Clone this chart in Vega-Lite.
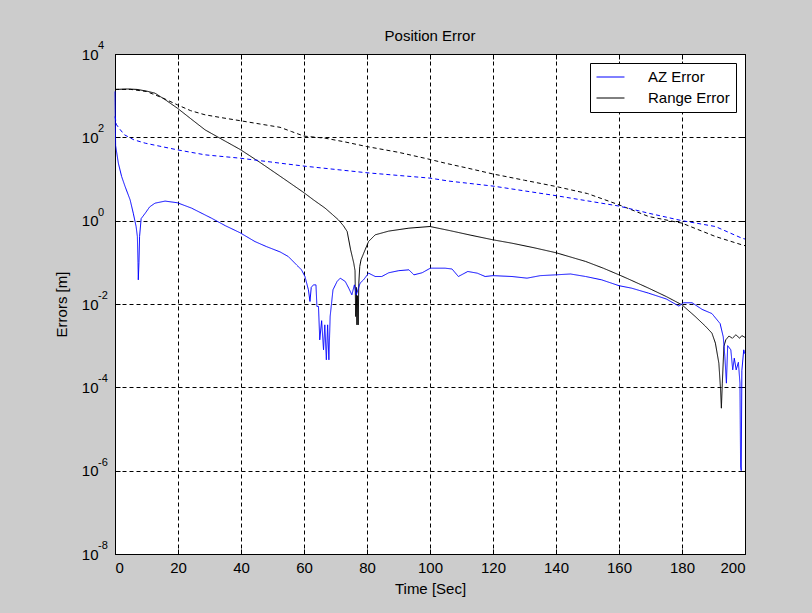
{
  "$schema": "https://vega.github.io/schema/vega-lite/v6.json",
  "width": 630,
  "height": 500,
  "autosize": {"type": "none"},
  "padding": {"left": 115, "top": 54, "right": 67, "bottom": 59},
  "background": "#cccccc",
  "config": {
    "font": "Liberation Sans",
    "view": {"fill": "white", "stroke": "black", "strokeWidth": 1},
    "axis": {
      "domain": false,
      "ticks": true,
      "tickSize": -5,
      "tickColor": "black",
      "tickWidth": 1,
      "labelFont": "Liberation Sans",
      "labelFontSize": 15,
      "labelColor": "black",
      "titleFont": "Liberation Sans",
      "titleFontSize": 15,
      "titleFontWeight": "normal",
      "titleColor": "black",
      "gridColor": "black",
      "gridOpacity": 1,
      "gridWidth": 1,
      "gridDash": [4, 3]
    }
  },
  "title": {
    "text": "Position Error",
    "font": "Liberation Sans",
    "fontSize": 15,
    "fontWeight": "normal",
    "color": "black",
    "frame": "group",
    "anchor": "middle",
    "offset": -4
  },
  "datasets": {
    "lines": [
      {"t": 0, "v": 1413, "s": "Range Error", "k": "solid"},
      {"t": 4, "v": 1445, "s": "Range Error", "k": "solid"},
      {"t": 7, "v": 1413, "s": "Range Error", "k": "solid"},
      {"t": 10, "v": 1288, "s": "Range Error", "k": "solid"},
      {"t": 12.7, "v": 1148, "s": "Range Error", "k": "solid"},
      {"t": 16, "v": 794, "s": "Range Error", "k": "solid"},
      {"t": 19.8, "v": 501, "s": "Range Error", "k": "solid"},
      {"t": 24, "v": 282, "s": "Range Error", "k": "solid"},
      {"t": 28.6, "v": 151, "s": "Range Error", "k": "solid"},
      {"t": 34, "v": 89.1, "s": "Range Error", "k": "solid"},
      {"t": 39.7, "v": 51.3, "s": "Range Error", "k": "solid"},
      {"t": 46, "v": 25.1, "s": "Range Error", "k": "solid"},
      {"t": 52.4, "v": 11.7, "s": "Range Error", "k": "solid"},
      {"t": 56, "v": 7.59, "s": "Range Error", "k": "solid"},
      {"t": 60, "v": 4.68, "s": "Range Error", "k": "solid"},
      {"t": 63, "v": 3.16, "s": "Range Error", "k": "solid"},
      {"t": 66.7, "v": 2.0, "s": "Range Error", "k": "solid"},
      {"t": 69, "v": 1.41, "s": "Range Error", "k": "solid"},
      {"t": 70.9, "v": 1.05, "s": "Range Error", "k": "solid"},
      {"t": 72.5, "v": 0.759, "s": "Range Error", "k": "solid"},
      {"t": 73.7, "v": 0.55, "s": "Range Error", "k": "solid"},
      {"t": 74.8, "v": 0.2, "s": "Range Error", "k": "solid"},
      {"t": 75.8, "v": 0.0955, "s": "Range Error", "k": "solid"},
      {"t": 76.2, "v": 0.0631, "s": "Range Error", "k": "solid"},
      {"t": 76.4, "v": 0.00501, "s": "Range Error", "k": "solid"},
      {"t": 76.6, "v": 0.0251, "s": "Range Error", "k": "solid"},
      {"t": 76.8, "v": 0.00316, "s": "Range Error", "k": "solid"},
      {"t": 77.0, "v": 0.0158, "s": "Range Error", "k": "solid"},
      {"t": 77.2, "v": 0.00316, "s": "Range Error", "k": "solid"},
      {"t": 77.4, "v": 0.0316, "s": "Range Error", "k": "solid"},
      {"t": 77.7, "v": 0.0794, "s": "Range Error", "k": "solid"},
      {"t": 78.1, "v": 0.115, "s": "Range Error", "k": "solid"},
      {"t": 79.4, "v": 0.2, "s": "Range Error", "k": "solid"},
      {"t": 80.5, "v": 0.316, "s": "Range Error", "k": "solid"},
      {"t": 82.6, "v": 0.457, "s": "Range Error", "k": "solid"},
      {"t": 86.9, "v": 0.562, "s": "Range Error", "k": "solid"},
      {"t": 93.3, "v": 0.661, "s": "Range Error", "k": "solid"},
      {"t": 100, "v": 0.724, "s": "Range Error", "k": "solid"},
      {"t": 106.4, "v": 0.575, "s": "Range Error", "k": "solid"},
      {"t": 113, "v": 0.447, "s": "Range Error", "k": "solid"},
      {"t": 120, "v": 0.347, "s": "Range Error", "k": "solid"},
      {"t": 126, "v": 0.288, "s": "Range Error", "k": "solid"},
      {"t": 133, "v": 0.224, "s": "Range Error", "k": "solid"},
      {"t": 140, "v": 0.17, "s": "Range Error", "k": "solid"},
      {"t": 149.4, "v": 0.105, "s": "Range Error", "k": "solid"},
      {"t": 155, "v": 0.0724, "s": "Range Error", "k": "solid"},
      {"t": 160, "v": 0.0501, "s": "Range Error", "k": "solid"},
      {"t": 163, "v": 0.0398, "s": "Range Error", "k": "solid"},
      {"t": 169.4, "v": 0.024, "s": "Range Error", "k": "solid"},
      {"t": 175, "v": 0.0151, "s": "Range Error", "k": "solid"},
      {"t": 180, "v": 0.00955, "s": "Range Error", "k": "solid"},
      {"t": 184.2, "v": 0.00501, "s": "Range Error", "k": "solid"},
      {"t": 187.4, "v": 0.00295, "s": "Range Error", "k": "solid"},
      {"t": 189.5, "v": 0.002, "s": "Range Error", "k": "solid"},
      {"t": 190.6, "v": 0.00115, "s": "Range Error", "k": "solid"},
      {"t": 191.7, "v": 0.00038, "s": "Range Error", "k": "solid"},
      {"t": 192.2, "v": 0.0001, "s": "Range Error", "k": "solid"},
      {"t": 192.5, "v": 0.0000316, "s": "Range Error", "k": "solid"},
      {"t": 192.8, "v": 0.000126, "s": "Range Error", "k": "solid"},
      {"t": 193.3, "v": 0.000955, "s": "Range Error", "k": "solid"},
      {"t": 193.9, "v": 0.00138, "s": "Range Error", "k": "solid"},
      {"t": 194.9, "v": 0.0017, "s": "Range Error", "k": "solid"},
      {"t": 196, "v": 0.00151, "s": "Range Error", "k": "solid"},
      {"t": 197.1, "v": 0.00182, "s": "Range Error", "k": "solid"},
      {"t": 198.3, "v": 0.00151, "s": "Range Error", "k": "solid"},
      {"t": 199, "v": 0.00174, "s": "Range Error", "k": "solid"},
      {"t": 200, "v": 0.00158, "s": "Range Error", "k": "solid"},

      {"t": 0, "v": 1413, "s": "Range Error", "k": "dashed"},
      {"t": 5, "v": 1413, "s": "Range Error", "k": "dashed"},
      {"t": 10, "v": 1259, "s": "Range Error", "k": "dashed"},
      {"t": 15, "v": 891, "s": "Range Error", "k": "dashed"},
      {"t": 19.8, "v": 603, "s": "Range Error", "k": "dashed"},
      {"t": 24, "v": 437, "s": "Range Error", "k": "dashed"},
      {"t": 28.6, "v": 347, "s": "Range Error", "k": "dashed"},
      {"t": 34, "v": 295, "s": "Range Error", "k": "dashed"},
      {"t": 39.7, "v": 251, "s": "Range Error", "k": "dashed"},
      {"t": 46, "v": 209, "s": "Range Error", "k": "dashed"},
      {"t": 52.4, "v": 174, "s": "Range Error", "k": "dashed"},
      {"t": 56, "v": 138, "s": "Range Error", "k": "dashed"},
      {"t": 60, "v": 107, "s": "Range Error", "k": "dashed"},
      {"t": 66.7, "v": 95.5, "s": "Range Error", "k": "dashed"},
      {"t": 73, "v": 77.6, "s": "Range Error", "k": "dashed"},
      {"t": 79.8, "v": 60.3, "s": "Range Error", "k": "dashed"},
      {"t": 90, "v": 43.7, "s": "Range Error", "k": "dashed"},
      {"t": 100, "v": 29.5, "s": "Range Error", "k": "dashed"},
      {"t": 104.8, "v": 24.0, "s": "Range Error", "k": "dashed"},
      {"t": 112, "v": 18.2, "s": "Range Error", "k": "dashed"},
      {"t": 120, "v": 13.2, "s": "Range Error", "k": "dashed"},
      {"t": 130, "v": 9.33, "s": "Range Error", "k": "dashed"},
      {"t": 140, "v": 6.61, "s": "Range Error", "k": "dashed"},
      {"t": 150, "v": 4.47, "s": "Range Error", "k": "dashed"},
      {"t": 160, "v": 2.4, "s": "Range Error", "k": "dashed"},
      {"t": 169.4, "v": 1.26, "s": "Range Error", "k": "dashed"},
      {"t": 180, "v": 0.871, "s": "Range Error", "k": "dashed"},
      {"t": 190.6, "v": 0.417, "s": "Range Error", "k": "dashed"},
      {"t": 199, "v": 0.263, "s": "Range Error", "k": "dashed"},
      {"t": 200, "v": 0.251, "s": "Range Error", "k": "dashed"},

      {"t": 0, "v": 316, "s": "AZ Error", "k": "dashed"},
      {"t": 0.5, "v": 200, "s": "AZ Error", "k": "dashed"},
      {"t": 1.5, "v": 158, "s": "AZ Error", "k": "dashed"},
      {"t": 3, "v": 115, "s": "AZ Error", "k": "dashed"},
      {"t": 6, "v": 87.1, "s": "AZ Error", "k": "dashed"},
      {"t": 9.6, "v": 72.4, "s": "AZ Error", "k": "dashed"},
      {"t": 14, "v": 61.7, "s": "AZ Error", "k": "dashed"},
      {"t": 19.8, "v": 50.1, "s": "AZ Error", "k": "dashed"},
      {"t": 28.6, "v": 38.0, "s": "AZ Error", "k": "dashed"},
      {"t": 39.7, "v": 31.6, "s": "AZ Error", "k": "dashed"},
      {"t": 52.4, "v": 24.0, "s": "AZ Error", "k": "dashed"},
      {"t": 60, "v": 20.4, "s": "AZ Error", "k": "dashed"},
      {"t": 80, "v": 14.1, "s": "AZ Error", "k": "dashed"},
      {"t": 100, "v": 10.5, "s": "AZ Error", "k": "dashed"},
      {"t": 106, "v": 8.91, "s": "AZ Error", "k": "dashed"},
      {"t": 120, "v": 6.76, "s": "AZ Error", "k": "dashed"},
      {"t": 140, "v": 3.98, "s": "AZ Error", "k": "dashed"},
      {"t": 160, "v": 2.24, "s": "AZ Error", "k": "dashed"},
      {"t": 169.4, "v": 1.51, "s": "AZ Error", "k": "dashed"},
      {"t": 180, "v": 1.0, "s": "AZ Error", "k": "dashed"},
      {"t": 190.6, "v": 0.724, "s": "AZ Error", "k": "dashed"},
      {"t": 199, "v": 0.38, "s": "AZ Error", "k": "dashed"},
      {"t": 200, "v": 0.363, "s": "AZ Error", "k": "dashed"},

      {"t": 0, "v": 1259, "s": "AZ Error", "k": "solid"},
      {"t": 0.2, "v": 63.1, "s": "AZ Error", "k": "solid"},
      {"t": 1.06, "v": 24.0, "s": "AZ Error", "k": "solid"},
      {"t": 2.1, "v": 11.5, "s": "AZ Error", "k": "solid"},
      {"t": 3.2, "v": 6.61, "s": "AZ Error", "k": "solid"},
      {"t": 4.8, "v": 3.16, "s": "AZ Error", "k": "solid"},
      {"t": 5.8, "v": 1.51, "s": "AZ Error", "k": "solid"},
      {"t": 6.7, "v": 0.724, "s": "AZ Error", "k": "solid"},
      {"t": 7.1, "v": 0.417, "s": "AZ Error", "k": "solid"},
      {"t": 7.3, "v": 0.1, "s": "AZ Error", "k": "solid"},
      {"t": 7.4, "v": 0.038, "s": "AZ Error", "k": "solid"},
      {"t": 7.6, "v": 0.1, "s": "AZ Error", "k": "solid"},
      {"t": 7.8, "v": 0.417, "s": "AZ Error", "k": "solid"},
      {"t": 8.3, "v": 1.12, "s": "AZ Error", "k": "solid"},
      {"t": 9.6, "v": 1.51, "s": "AZ Error", "k": "solid"},
      {"t": 11, "v": 2.14, "s": "AZ Error", "k": "solid"},
      {"t": 12.7, "v": 2.63, "s": "AZ Error", "k": "solid"},
      {"t": 15.9, "v": 2.95, "s": "AZ Error", "k": "solid"},
      {"t": 19.8, "v": 2.69, "s": "AZ Error", "k": "solid"},
      {"t": 24.3, "v": 2.0, "s": "AZ Error", "k": "solid"},
      {"t": 30.6, "v": 1.15, "s": "AZ Error", "k": "solid"},
      {"t": 35, "v": 0.759, "s": "AZ Error", "k": "solid"},
      {"t": 39.7, "v": 0.513, "s": "AZ Error", "k": "solid"},
      {"t": 44.4, "v": 0.316, "s": "AZ Error", "k": "solid"},
      {"t": 48, "v": 0.24, "s": "AZ Error", "k": "solid"},
      {"t": 52.4, "v": 0.178, "s": "AZ Error", "k": "solid"},
      {"t": 55, "v": 0.138, "s": "AZ Error", "k": "solid"},
      {"t": 59.2, "v": 0.0661, "s": "AZ Error", "k": "solid"},
      {"t": 60.3, "v": 0.0457, "s": "AZ Error", "k": "solid"},
      {"t": 61.4, "v": 0.0219, "s": "AZ Error", "k": "solid"},
      {"t": 61.9, "v": 0.0115, "s": "AZ Error", "k": "solid"},
      {"t": 62.3, "v": 0.0251, "s": "AZ Error", "k": "solid"},
      {"t": 63, "v": 0.0288, "s": "AZ Error", "k": "solid"},
      {"t": 63.8, "v": 0.0288, "s": "AZ Error", "k": "solid"},
      {"t": 64.1, "v": 0.00871, "s": "AZ Error", "k": "solid"},
      {"t": 64.6, "v": 0.00871, "s": "AZ Error", "k": "solid"},
      {"t": 65.0, "v": 0.00138, "s": "AZ Error", "k": "solid"},
      {"t": 65.6, "v": 0.00398, "s": "AZ Error", "k": "solid"},
      {"t": 66.2, "v": 0.000794, "s": "AZ Error", "k": "solid"},
      {"t": 66.6, "v": 0.00316, "s": "AZ Error", "k": "solid"},
      {"t": 67.1, "v": 0.000457, "s": "AZ Error", "k": "solid"},
      {"t": 67.5, "v": 0.00316, "s": "AZ Error", "k": "solid"},
      {"t": 67.9, "v": 0.000457, "s": "AZ Error", "k": "solid"},
      {"t": 68.3, "v": 0.00501, "s": "AZ Error", "k": "solid"},
      {"t": 69.2, "v": 0.0219, "s": "AZ Error", "k": "solid"},
      {"t": 70.5, "v": 0.0347, "s": "AZ Error", "k": "solid"},
      {"t": 71.5, "v": 0.0417, "s": "AZ Error", "k": "solid"},
      {"t": 73.1, "v": 0.0347, "s": "AZ Error", "k": "solid"},
      {"t": 74.2, "v": 0.024, "s": "AZ Error", "k": "solid"},
      {"t": 75.2, "v": 0.0166, "s": "AZ Error", "k": "solid"},
      {"t": 76, "v": 0.0288, "s": "AZ Error", "k": "solid"},
      {"t": 76.6, "v": 0.0166, "s": "AZ Error", "k": "solid"},
      {"t": 77.8, "v": 0.0316, "s": "AZ Error", "k": "solid"},
      {"t": 78.9, "v": 0.038, "s": "AZ Error", "k": "solid"},
      {"t": 80.5, "v": 0.055, "s": "AZ Error", "k": "solid"},
      {"t": 82.6, "v": 0.0457, "s": "AZ Error", "k": "solid"},
      {"t": 84.7, "v": 0.0457, "s": "AZ Error", "k": "solid"},
      {"t": 86.9, "v": 0.0562, "s": "AZ Error", "k": "solid"},
      {"t": 90.1, "v": 0.0631, "s": "AZ Error", "k": "solid"},
      {"t": 93.3, "v": 0.0661, "s": "AZ Error", "k": "solid"},
      {"t": 94.9, "v": 0.0501, "s": "AZ Error", "k": "solid"},
      {"t": 97.5, "v": 0.0562, "s": "AZ Error", "k": "solid"},
      {"t": 100.1, "v": 0.0724, "s": "AZ Error", "k": "solid"},
      {"t": 104.8, "v": 0.0724, "s": "AZ Error", "k": "solid"},
      {"t": 107, "v": 0.0692, "s": "AZ Error", "k": "solid"},
      {"t": 109, "v": 0.0457, "s": "AZ Error", "k": "solid"},
      {"t": 112, "v": 0.0603, "s": "AZ Error", "k": "solid"},
      {"t": 115, "v": 0.055, "s": "AZ Error", "k": "solid"},
      {"t": 117.5, "v": 0.0457, "s": "AZ Error", "k": "solid"},
      {"t": 120, "v": 0.0479, "s": "AZ Error", "k": "solid"},
      {"t": 126, "v": 0.0457, "s": "AZ Error", "k": "solid"},
      {"t": 130.8, "v": 0.0417, "s": "AZ Error", "k": "solid"},
      {"t": 135, "v": 0.0479, "s": "AZ Error", "k": "solid"},
      {"t": 139.9, "v": 0.0501, "s": "AZ Error", "k": "solid"},
      {"t": 144.6, "v": 0.0525, "s": "AZ Error", "k": "solid"},
      {"t": 149.4, "v": 0.0457, "s": "AZ Error", "k": "solid"},
      {"t": 154.5, "v": 0.038, "s": "AZ Error", "k": "solid"},
      {"t": 160, "v": 0.0275, "s": "AZ Error", "k": "solid"},
      {"t": 164, "v": 0.024, "s": "AZ Error", "k": "solid"},
      {"t": 169.4, "v": 0.0182, "s": "AZ Error", "k": "solid"},
      {"t": 175, "v": 0.0132, "s": "AZ Error", "k": "solid"},
      {"t": 179, "v": 0.00891, "s": "AZ Error", "k": "solid"},
      {"t": 180.5, "v": 0.0107, "s": "AZ Error", "k": "solid"},
      {"t": 183.2, "v": 0.0107, "s": "AZ Error", "k": "solid"},
      {"t": 186.4, "v": 0.00741, "s": "AZ Error", "k": "solid"},
      {"t": 189.5, "v": 0.00589, "s": "AZ Error", "k": "solid"},
      {"t": 192.1, "v": 0.00339, "s": "AZ Error", "k": "solid"},
      {"t": 193.1, "v": 0.00162, "s": "AZ Error", "k": "solid"},
      {"t": 193.6, "v": 0.00055, "s": "AZ Error", "k": "solid"},
      {"t": 194.1, "v": 0.000126, "s": "AZ Error", "k": "solid"},
      {"t": 194.5, "v": 0.001, "s": "AZ Error", "k": "solid"},
      {"t": 195.5, "v": 0.000794, "s": "AZ Error", "k": "solid"},
      {"t": 196.1, "v": 0.000263, "s": "AZ Error", "k": "solid"},
      {"t": 196.6, "v": 0.000501, "s": "AZ Error", "k": "solid"},
      {"t": 197.2, "v": 0.000263, "s": "AZ Error", "k": "solid"},
      {"t": 197.9, "v": 0.000398, "s": "AZ Error", "k": "solid"},
      {"t": 198.4, "v": 0.000126, "s": "AZ Error", "k": "solid"},
      {"t": 198.6, "v": 0.00000126, "s": "AZ Error", "k": "solid"},
      {"t": 198.8, "v": 0.000001, "s": "AZ Error", "k": "solid"},
      {"t": 199.0, "v": 0.000251, "s": "AZ Error", "k": "solid"},
      {"t": 199.6, "v": 0.000794, "s": "AZ Error", "k": "solid"},
      {"t": 200, "v": 0.000631, "s": "AZ Error", "k": "solid"}
    ],
    "exps": [
      {"v": 10000, "e": "4"},
      {"v": 100, "e": "2"},
      {"v": 1, "e": "0"},
      {"v": 0.01, "e": "-2"},
      {"v": 0.0001, "e": "-4"},
      {"v": 0.000001, "e": "-6"},
      {"v": 0.00000001, "e": "-8"}
    ]
  },
  "layer": [
    {
      "data": {"name": "lines"},
      "mark": {"type": "line", "strokeWidth": 1},
      "encoding": {
        "x": {
          "field": "t",
          "type": "quantitative",
          "scale": {"domain": [0, 200], "nice": false, "zero": false},
          "axis": {
            "orient": "bottom",
            "values": [0, 20, 40, 60, 80, 100, 120, 140, 160, 180, 200],
            "grid": true,
            "labelPadding": 11,
            "title": "Time [Sec]",
            "titlePadding": 6
          }
        },
        "y": {
          "field": "v",
          "type": "quantitative",
          "scale": {"type": "log", "domain": [0.00000001, 10000], "nice": false},
          "axis": {
            "orient": "left",
            "values": [0.00000001, 0.000001, 0.0001, 0.01, 1, 100, 10000],
            "grid": true,
            "labelExpr": "'10'",
            "labelAlign": "right",
            "labelBaseline": "middle",
            "labelPadding": 22,
            "title": "Errors [m]",
            "titlePadding": 12
          }
        },
        "color": {
          "field": "s",
          "type": "nominal",
          "scale": {"domain": ["AZ Error", "Range Error"], "range": ["#0000ff", "#000000"]},
          "legend": {
            "title": null,
            "orient": "top-right",
            "offset": 9,
            "fillColor": "white",
            "strokeColor": "black",
            "padding": 6,
            "rowPadding": 5,
            "symbolType": "M-1,0H2.73",
            "symbolSize": 225,
            "symbolStrokeWidth": 1,
            "labelFont": "Liberation Sans",
            "labelFontSize": 15,
            "labelColor": "black",
            "labelOffset": 36
          }
        },
        "strokeDash": {
          "field": "k",
          "type": "nominal",
          "scale": {"domain": ["solid", "dashed"], "range": [[1, 0], [4, 3]]},
          "legend": null
        }
      }
    },
    {
      "data": {"name": "exps"},
      "mark": {"type": "text", "align": "left", "baseline": "middle", "dx": -17, "dy": -8, "fontSize": 11, "font": "Liberation Sans", "color": "black"},
      "encoding": {
        "x": {
          "datum": 0,
          "type": "quantitative",
          "axis": {
            "orient": "top",
            "values": [0, 20, 40, 60, 80, 100, 120, 140, 160, 180, 200],
            "grid": false,
            "labels": false,
            "title": null
          }
        },
        "y": {
          "field": "v",
          "type": "quantitative",
          "axis": {
            "orient": "right",
            "values": [0.00000001, 0.000001, 0.0001, 0.01, 1, 100, 10000],
            "grid": false,
            "labels": false,
            "title": null
          }
        },
        "text": {"field": "e", "type": "nominal"}
      }
    }
  ],
  "resolve": {"axis": {"x": "independent", "y": "independent"}}
}
